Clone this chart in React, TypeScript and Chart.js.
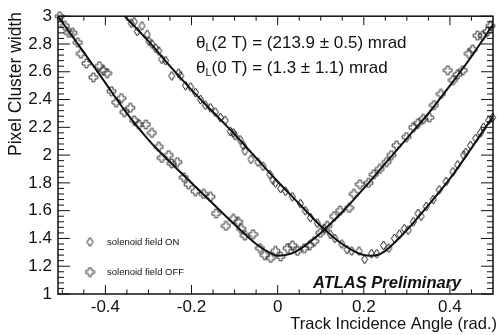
import React, { useEffect, useRef } from 'react';
import { Chart, registerables } from 'chart.js';
Chart.register(...registerables);

const FONT = '"Liberation Sans", Arial, Helvetica, sans-serif';

const X_TICKS = [-0.4, -0.2, 0, 0.2, 0.4];
const X_TICK_LABELS = ['-0.4', '-0.2', '0', '0.2', '0.4'];
const Y_TICKS = [1, 1.2, 1.4, 1.6, 1.8, 2, 2.2, 2.4, 2.6, 2.8, 3];
const Y_TICK_LABELS = ['1', '1.2', '1.4', '1.6', '1.8', '2', '2.2', '2.4', '2.6', '2.8', '3'];

// solenoid field ON (diamonds)
const ON_X = [-0.340, -0.333, -0.326, -0.315, -0.303, -0.299, -0.292, -0.283, -0.276, -0.269, -0.260, -0.246, -0.230, -0.225, -0.214, -0.202, -0.191, -0.179, -0.168, -0.156, -0.145, -0.133, -0.122, -0.110, -0.103, -0.099, -0.087, -0.080, -0.076, -0.062, -0.046, -0.034, -0.018, -0.011, -0.005, 0.007, 0.018, 0.034, 0.053, 0.064, 0.076, 0.092, 0.108, 0.122, 0.133, 0.149, 0.161, 0.172, 0.189, 0.202, 0.218, 0.230, 0.246, 0.258, 0.271, 0.283, 0.294, 0.303, 0.315, 0.326, 0.333, 0.345, 0.361, 0.375, 0.391, 0.407, 0.418, 0.432, 0.437, 0.448, 0.460, 0.471, 0.478, 0.490, 0.499];
const ON_Y = [2.95, 2.96, 2.89, 2.93, 2.87, 2.82, 2.80, 2.77, 2.75, 2.69, 2.68, 2.57, 2.59, 2.57, 2.50, 2.49, 2.45, 2.40, 2.36, 2.34, 2.31, 2.27, 2.25, 2.17, 2.16, 2.14, 2.11, 2.07, 2.03, 1.97, 1.95, 1.92, 1.86, 1.82, 1.80, 1.76, 1.74, 1.70, 1.65, 1.60, 1.55, 1.51, 1.47, 1.43, 1.40, 1.36, 1.32, 1.31, 1.31, 1.25, 1.29, 1.29, 1.35, 1.33, 1.40, 1.43, 1.47, 1.46, 1.52, 1.58, 1.56, 1.63, 1.68, 1.75, 1.81, 1.88, 1.93, 2.00, 2.02, 2.07, 2.12, 2.16, 2.20, 2.25, 2.27];

// solenoid field OFF (open crosses)
const OFF_X = [-0.506, -0.494, -0.485, -0.476, -0.464, -0.457, -0.444, -0.428, -0.414, -0.405, -0.396, -0.386, -0.375, -0.363, -0.356, -0.342, -0.333, -0.322, -0.306, -0.292, -0.276, -0.269, -0.253, -0.246, -0.233, -0.218, -0.207, -0.191, -0.172, -0.156, -0.143, -0.120, -0.103, -0.092, -0.085, -0.076, -0.057, -0.041, -0.030, -0.016, -0.005, 0.007, 0.023, 0.034, 0.046, 0.062, 0.074, 0.085, 0.099, 0.115, 0.131, 0.145, 0.166, 0.177, 0.191, 0.211, 0.223, 0.237, 0.253, 0.264, 0.276, 0.299, 0.315, 0.326, 0.338, 0.352, 0.363, 0.379, 0.395, 0.407, 0.418, 0.430, 0.444, 0.453, 0.464, 0.476, 0.487, 0.494];
const OFF_Y = [3.00, 2.93, 2.88, 2.88, 2.81, 2.73, 2.66, 2.56, 2.64, 2.61, 2.59, 2.46, 2.38, 2.41, 2.31, 2.34, 2.25, 2.22, 2.22, 2.16, 2.06, 1.98, 2.00, 1.94, 1.95, 1.84, 1.79, 1.74, 1.72, 1.70, 1.58, 1.49, 1.54, 1.52, 1.47, 1.42, 1.43, 1.33, 1.28, 1.26, 1.31, 1.27, 1.33, 1.35, 1.31, 1.33, 1.35, 1.38, 1.44, 1.49, 1.56, 1.60, 1.62, 1.72, 1.79, 1.80, 1.86, 1.90, 1.95, 2.00, 2.07, 2.13, 2.20, 2.23, 2.26, 2.27, 2.36, 2.44, 2.61, 2.54, 2.58, 2.61, 2.73, 2.76, 2.86, 2.86, 2.89, 2.93];

// fit curves
const FIT_ON_X = [-0.355, -0.30, -0.25, -0.20, -0.15, -0.10, -0.05, 0.00, 0.05, 0.10, 0.15, 0.19, 0.214, 0.24, 0.30, 0.35, 0.40, 0.45, 0.50];
const FIT_ON_Y = [3.00, 2.82, 2.64, 2.47, 2.31, 2.15, 1.98, 1.81, 1.65, 1.49, 1.36, 1.29, 1.275, 1.29, 1.46, 1.64, 1.83, 2.05, 2.28];
const FIT_OFF_X = [-0.51, -0.45, -0.40, -0.35, -0.30, -0.25, -0.20, -0.15, -0.10, -0.05, -0.02, 0.001, 0.03, 0.05, 0.10, 0.15, 0.20, 0.25, 0.30, 0.35, 0.40, 0.45, 0.50];
const FIT_OFF_Y = [3.00, 2.74, 2.52, 2.30, 2.11, 1.95, 1.80, 1.65, 1.50, 1.36, 1.30, 1.275, 1.29, 1.32, 1.44, 1.59, 1.76, 1.94, 2.12, 2.30, 2.50, 2.71, 2.94];

const ANNOT_1 = ['θ', 'L', '(2 T) = (213.9 ± 0.5) mrad'];
const ANNOT_2 = ['θ', 'L', '(0 T) = (1.3 ± 1.1) mrad'];
const LEGEND_ON = 'solenoid field ON';
const LEGEND_OFF = 'solenoid field OFF';
const X_TITLE = 'Track Incidence Angle (rad.)';
const Y_TITLE = 'Pixel Cluster width';
const LABEL = 'ATLAS Preliminary';

function makeDiamond(): HTMLCanvasElement {
  const c = document.createElement('canvas');
  c.width = 9; c.height = 11;
  const g = c.getContext('2d')!;
  g.strokeStyle = '#111';
  g.lineWidth = 1;
  g.beginPath();
  g.moveTo(4.5, 1); g.lineTo(7.5, 5.5); g.lineTo(4.5, 10); g.lineTo(1.5, 5.5); g.closePath();
  g.stroke();
  return c;
}

function makeCross(): HTMLCanvasElement {
  const c = document.createElement('canvas');
  c.width = 11; c.height = 11;
  const g = c.getContext('2d')!;
  g.strokeStyle = '#222';
  g.lineWidth = 0.9;
  const m = 5.5, a = 1.5, s = 4.3;
  g.beginPath();
  g.moveTo(m - a, m - s); g.lineTo(m + a, m - s); g.lineTo(m + a, m - a); g.lineTo(m + s, m - a);
  g.lineTo(m + s, m + a); g.lineTo(m + a, m + a); g.lineTo(m + a, m + s); g.lineTo(m - a, m + s);
  g.lineTo(m - a, m + a); g.lineTo(m - s, m + a); g.lineTo(m - s, m - a); g.lineTo(m - a, m - a);
  g.closePath();
  g.stroke();
  return c;
}

export default function App() {
  const ref = useRef<HTMLCanvasElement>(null);
  useEffect(() => {
    const canvas = ref.current!;
    const diamond = makeDiamond();
    const cross = makeCross();
    const pts = (xs: number[], ys: number[]) => xs.map((x, i) => ({ x, y: ys[i] }));

    const decor = {
      id: 'decor',
      afterDatasetsDraw(chart: any) {
        const ctx = chart.ctx as CanvasRenderingContext2D;
        const { left, right, top, bottom } = chart.chartArea;
        const xs = chart.scales.x, ys = chart.scales.y;
        ctx.save();
        ctx.strokeStyle = '#111';
        ctx.lineWidth = 1.5;
        ctx.strokeRect(left, top, right - left, bottom - top);
        ctx.lineWidth = 1;
        for (let k = -10; k <= 10; k++) {
          const v = k * 0.05;
          const p = xs.getPixelForValue(v);
          if (p < left + 1 || p > right - 1) continue;
          const major = k % 4 === 0;
          const len = major ? 9 : 4.5;
          ctx.beginPath();
          ctx.moveTo(p, bottom); ctx.lineTo(p, bottom - len);
          ctx.moveTo(p, top); ctx.lineTo(p, top + len);
          ctx.stroke();
        }
        for (let k = 0; k <= 50; k++) {
          const v = 1 + k * 0.04;
          const p = ys.getPixelForValue(v);
          const major = k % 5 === 0;
          const len = major ? 12 : 6;
          ctx.beginPath();
          ctx.moveTo(left, p); ctx.lineTo(left + len, p);
          ctx.moveTo(right, p); ctx.lineTo(right - len, p);
          ctx.stroke();
        }
        ctx.fillStyle = '#111';
        const drawTheta = (parts: string[], x: number, y: number) => {
          ctx.font = `17px ${FONT}`;
          ctx.textAlign = 'left';
          ctx.textBaseline = 'alphabetic';
          ctx.fillText(parts[0], x, y);
          let w = ctx.measureText(parts[0]).width;
          ctx.font = `11px ${FONT}`;
          ctx.fillText(parts[1], x + w, y + 3);
          w += ctx.measureText(parts[1]).width;
          ctx.font = `17px ${FONT}`;
          ctx.fillText(parts[2], x + w, y);
        };
        drawTheta(ANNOT_1, 196, 48);
        drawTheta(ANNOT_2, 196, 73);
        ctx.drawImage(diamond, 90 - 4.5, 242 - 5.5);
        ctx.drawImage(cross, 90 - 5.5, 272 - 5.5);
        ctx.font = `9.5px ${FONT}`;
        ctx.textBaseline = 'middle';
        ctx.fillText(LEGEND_ON, 107, 242);
        ctx.fillText(LEGEND_OFF, 107, 272);
        ctx.font = `italic bold 16.5px ${FONT}`;
        ctx.textBaseline = 'alphabetic';
        ctx.fillText(LABEL, 313, 288);
        ctx.font = `16.5px ${FONT}`;
        ctx.textAlign = 'right';
        ctx.fillText(X_TITLE, 497, 329);
        ctx.save();
        ctx.font = `17.5px ${FONT}`;
        ctx.translate(21, 12);
        ctx.rotate(-Math.PI / 2);
        ctx.textAlign = 'right';
        ctx.textBaseline = 'alphabetic';
        ctx.fillText(Y_TITLE, 0, 0);
        ctx.restore();
        ctx.restore();
      },
    };

    const chart = new Chart(canvas, {
      type: 'scatter',
      data: {
        datasets: [
          { label: 'fitOn', data: pts(FIT_ON_X, FIT_ON_Y), showLine: true, borderColor: '#111', borderWidth: 2, pointRadius: 0, cubicInterpolationMode: 'monotone' } as any,
          { label: 'fitOff', data: pts(FIT_OFF_X, FIT_OFF_Y), showLine: true, borderColor: '#111', borderWidth: 2, pointRadius: 0, cubicInterpolationMode: 'monotone' } as any,
          { label: LEGEND_ON, data: pts(ON_X, ON_Y), pointStyle: diamond, pointRadius: 5, clip: 6 } as any,
          { label: LEGEND_OFF, data: pts(OFF_X, OFF_Y), pointStyle: cross, pointRadius: 5, clip: 6 } as any,
        ],
      },
      options: {
        responsive: false,
        animation: false,
        devicePixelRatio: 1,
        layout: { padding: { top: 13, right: 2, left: 0, bottom: 0 } },
        plugins: { legend: { display: false }, tooltip: { enabled: false } },
        scales: {
          x: {
            type: 'linear', min: -0.51, max: 0.5,
            afterBuildTicks: (s: any) => { s.ticks = X_TICKS.map((v) => ({ value: v })); },
            afterFit: (s: any) => { s.height = 41; },
            grid: { display: false, drawTicks: false },
            border: { display: false },
            ticks: { autoSkip: false, maxRotation: 0, padding: 3, color: '#111', font: { family: FONT, size: 17 }, callback: (_v: any, i: number) => X_TICK_LABELS[i] },
          },
          y: {
            type: 'linear', min: 1, max: 3,
            afterBuildTicks: (s: any) => { s.ticks = Y_TICKS.map((v) => ({ value: v })); },
            afterFit: (s: any) => { s.width = 58; },
            grid: { display: false, drawTicks: false },
            border: { display: false },
            ticks: { autoSkip: false, padding: 6, color: '#111', font: { family: FONT, size: 17 }, callback: (_v: any, i: number) => Y_TICK_LABELS[i] },
          },
        },
      } as any,
      plugins: [decor],
    });
    return () => chart.destroy();
  }, []);
  return (
    <div style={{ position: 'fixed', left: 0, top: 0, width: 499, height: 335, background: '#fff' }}>
      <canvas ref={ref} width={499} height={335} style={{ width: 499, height: 335, display: 'block' }} />
    </div>
  );
}
